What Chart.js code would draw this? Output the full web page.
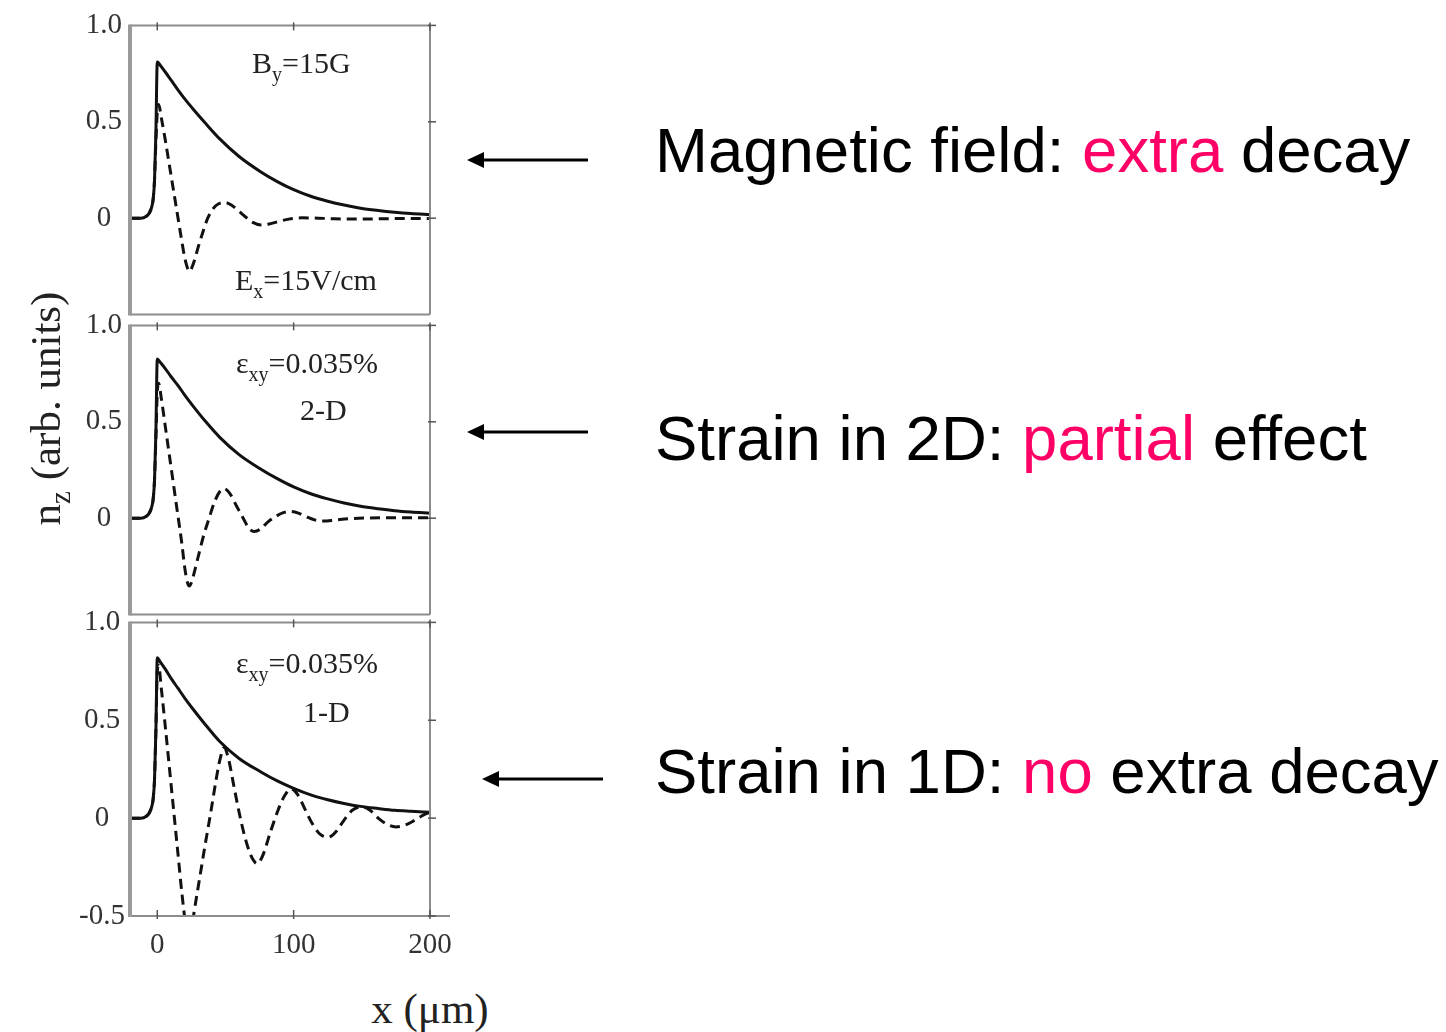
<!DOCTYPE html>
<html>
<head>
<meta charset="utf-8">
<script src="https://cdn.jsdelivr.net/npm/chart.js@4.4.0/dist/chart.umd.min.js"></script>
<style>
body { margin: 0; background: #fff; }
#page { position: relative; width: 1446px; height: 1032px; overflow: hidden; background: #fff; }
canvas.panel { position: absolute; left: 50px; }
.note { position: absolute; font-family: 'Liberation Serif', serif; font-size: 30px; line-height: 1; color: #222; white-space: nowrap; }
.note .s { font-size: 20px; position: relative; top: 8px; }
.say { position: absolute; left: 655px; font-family: 'Liberation Sans', Arial, sans-serif; font-size: 63.5px; line-height: 1; white-space: nowrap; color: #000; }
.hot { color: #ff0066; }
.axt { position: absolute; font-family: 'Liberation Serif', serif; font-size: 43px; line-height: 1; white-space: nowrap; color: #222; text-align: center; }
.axt .s { font-size: 29px; position: relative; top: 10px; }
svg { position: absolute; left: 0; top: 0; }
</style>
</head>
<body>
<div id="page">
  <canvas class="panel" id="p1" width="420" height="340" style="top:0px"></canvas>
  <canvas class="panel" id="p2" width="420" height="340" style="top:300px"></canvas>
  <canvas class="panel" id="p3" width="420" height="380" style="top:600px"></canvas>

  <div class="note" style="left:252px; top:48px">B<span class="s">y</span>=15G</div>
  <div class="note" style="left:235px; top:265px">E<span class="s">x</span>=15V/cm</div>
  <div class="note" style="left:236px; top:348px">ε<span class="s">xy</span>=0.035%</div>
  <div class="note" style="left:300px; top:395px">2-D</div>
  <div class="note" style="left:236px; top:648px">ε<span class="s">xy</span>=0.035%</div>
  <div class="note" style="left:303px; top:697px">1-D</div>

  <div class="axt" style="left:-115px; top:387px; width:320px; transform:rotate(-90deg)">n<span class="s">z</span> (arb. units)</div>
  <div class="axt" style="left:330px; top:987px; width:200px">x (μm)</div>

  <svg width="1446" height="1032">
    <g stroke="#000" stroke-width="3">
      <line x1="482" y1="160" x2="588" y2="160"/>
      <line x1="482" y1="432" x2="588" y2="432"/>
      <line x1="497" y1="779" x2="603" y2="779"/>
    </g>
    <g fill="#000">
      <polygon points="467,160 484,152 484,168"/>
      <polygon points="467,432 484,424 484,440"/>
      <polygon points="482,779 499,771 499,787"/>
    </g>
  </svg>

  <div class="say" style="top:119px">Magnetic field: <span class="hot">extra</span> decay</div>
  <div class="say" style="top:407px">Strain in 2D: <span class="hot">partial</span> effect</div>
  <div class="say" style="top:740px">Strain in 1D: <span class="hot">no</span> extra decay</div>
</div>

<script>
// tick values
const xTicks = [0, 100, 200]
const yTicksUpper = [0, 0.5, 1]
const yTicksLower = [-0.5, 0, 0.5, 1]

// solid curves share one x grid (x in um)
const solidX = [-20, -12, -8, -6, -4, -3, -2, -1, 0, 2, 6, 10, 15, 20, 27, 35, 46, 60, 76, 88, 100, 112, 125, 137, 149, 162, 174, 186, 200]
const solidB = [0, 0, 0.01, 0.025, 0.06, 0.1, 0.2, 0.45, 0.81, 0.795, 0.757, 0.717, 0.667, 0.62, 0.56, 0.495, 0.41, 0.32, 0.24, 0.19, 0.148, 0.115, 0.088, 0.068, 0.052, 0.04, 0.031, 0.024, 0.018]
const solid2D = [0, 0, 0.01, 0.025, 0.06, 0.1, 0.2, 0.45, 0.826, 0.81, 0.775, 0.735, 0.69, 0.64, 0.575, 0.505, 0.418, 0.33, 0.254, 0.205, 0.162, 0.128, 0.1, 0.079, 0.062, 0.049, 0.039, 0.032, 0.026]
const solid1D = [0, 0, 0.01, 0.025, 0.06, 0.1, 0.2, 0.45, 0.82, 0.8, 0.76, 0.715, 0.665, 0.615, 0.55, 0.48, 0.39, 0.305, 0.236, 0.19, 0.152, 0.12, 0.094, 0.075, 0.06, 0.049, 0.04, 0.035, 0.03]

// dashed curves
const dashXB = [-20, -12, -8, -6, -4, -3, -2, -1, 0, 1, 3, 6, 9, 12, 15, 18, 20, 22, 23.5, 25, 27, 30, 34, 37, 41, 45, 50, 55, 60, 65, 70, 76, 82, 90, 98, 106, 115, 130, 150, 175, 200]
const dashYB = [0, 0, 0.01, 0.025, 0.06, 0.1, 0.2, 0.4, 0.55, 0.59, 0.52, 0.4, 0.27, 0.14, 0.01, -0.12, -0.2, -0.255, -0.276, -0.262, -0.225, -0.15, -0.06, 0, 0.05, 0.075, 0.081, 0.065, 0.035, 0.005, -0.022, -0.035, -0.03, -0.015, -0.003, 0.002, 0.001, -0.003, -0.004, -0.002, -0.002]

const dashX2D = [-20, -12, -8, -6, -4, -3, -2, -1, 0, 1, 3, 6, 9, 12, 15, 18, 20, 22, 23.5, 25, 27, 30, 34, 38, 42, 46, 49, 53, 58, 63, 67, 71, 76, 81, 86, 92, 98, 104, 110, 116, 122, 130, 140, 155, 175, 200]
const dashY2D = [0, 0, 0.01, 0.025, 0.06, 0.1, 0.2, 0.42, 0.65, 0.7, 0.62, 0.47, 0.32, 0.17, 0.02, -0.13, -0.25, -0.33, -0.352, -0.335, -0.285, -0.2, -0.09, 0, 0.085, 0.14, 0.153, 0.13, 0.065, 0, -0.05, -0.069, -0.055, -0.02, 0.005, 0.028, 0.035, 0.025, 0.005, -0.01, -0.015, -0.01, -0.003, 0.001, 0.002, 0.002]

const dashX1D = [-20, -12, -8, -6, -4, -3, -2, -1, 0, 1, 3, 6, 9, 12, 15, 18, 21, 24, 27, 31, 35, 39, 43, 46, 49, 52, 56, 60, 64, 68, 71, 73, 75, 78, 83, 88, 93, 98, 103, 108, 113, 119, 122, 125, 128, 131, 137, 143, 150, 156, 162, 168, 175, 182, 189, 195, 200]
const dashY1D = [0, 0, 0.01, 0.025, 0.06, 0.1, 0.2, 0.45, 0.75, 0.78, 0.66, 0.46, 0.25, 0.04, -0.17, -0.38, -0.55, -0.62, -0.48, -0.31, -0.14, 0.02, 0.19, 0.3, 0.36, 0.31, 0.17, 0.03, -0.09, -0.18, -0.22, -0.232, -0.222, -0.18, -0.07, 0.03, 0.11, 0.15, 0.12, 0.05, -0.02, -0.08, -0.093, -0.098, -0.09, -0.07, -0.01, 0.04, 0.058, 0.04, 0, -0.03, -0.045, -0.035, -0.01, 0.015, 0.03]

Chart.defaults.font.family = "'Liberation Serif', serif"

const pts = (xs, ys) => xs.map((x, i) => ({ x: x, y: ys[i] }))

// frame + small tick marks like the original plot
const framePlugin = {
    id: 'frame',
    afterDraw(chart, args, opts) {
        const ctx = chart.ctx
        const a = chart.chartArea
        const sx = chart.scales.x
        const sy = chart.scales.y
        const line = (x1, y1, x2, y2) => { ctx.beginPath(); ctx.moveTo(x1, y1); ctx.lineTo(x2, y2); ctx.stroke() }
        ctx.save()
        ctx.strokeStyle = '#8c8c8c'
        ctx.lineWidth = 2
        line(a.left, a.top, a.right, a.top)
        line(a.right, a.top, a.right, a.bottom)
        line(a.left, a.bottom, opts.last ? a.right + 20 : a.right, a.bottom)
        ctx.strokeStyle = '#9a9a9a'
        ctx.lineWidth = 4
        line(a.left, a.top - 1, a.left, a.bottom + 1)
        ctx.strokeStyle = '#555'
        ctx.lineWidth = 1.5
        xTicks.forEach(v => {
            const px = sx.getPixelForValue(v)
            line(px, a.top - 3, px, a.top + 5)
            if (opts.last) line(px, a.bottom - 6, px, a.bottom + 3)
        })
        opts.yTicks.forEach(v => {
            const py = sy.getPixelForValue(v)
            line(a.right - 2, py, a.right + 6, py)
        })
        ctx.restore()
    }
}

const makePanel = (id, solidY, dashX, dashY, yTicks, padTop, padBottom, last) => {
    new Chart(document.getElementById(id), {
        type: 'line',
        data: {
            datasets: [{
                data: pts(solidX, solidY),
                borderColor: '#111',
                borderWidth: 3,
                pointRadius: 0,
                cubicInterpolationMode: 'monotone'
            }, {
                data: pts(dashX, dashY),
                borderColor: '#111',
                borderWidth: 3,
                borderDash: [10, 6],
                pointRadius: 0,
                cubicInterpolationMode: 'monotone'
            }]
        },
        options: {
            responsive: false,
            animation: false,
            layout: { padding: { left: 0, right: 40, top: padTop, bottom: padBottom } },
            plugins: {
                legend: { display: false },
                tooltip: { enabled: false },
                frame: { last: last, yTicks: yTicks }
            },
            scales: {
                x: {
                    type: 'linear',
                    min: -20,
                    max: 200,
                    display: last,
                    afterBuildTicks: s => { s.ticks = xTicks.map(v => ({ value: v })) },
                    afterFit: s => { s.height = last ? 60 : 0 },
                    grid: { display: false, drawTicks: false },
                    border: { display: false },
                    ticks: { font: { size: 29 }, color: '#333', padding: 12, maxRotation: 0, autoSkip: false }
                },
                y: {
                    min: -0.5,
                    max: 1,
                    afterBuildTicks: s => { s.ticks = yTicks.map(v => ({ value: v })) },
                    afterFit: s => { s.width = 80 },
                    grid: { display: false, drawTicks: false },
                    border: { display: false },
                    ticks: {
                        font: { size: 29 },
                        color: '#333',
                        padding: last ? 5 : 8,
                        crossAlign: 'center',
                        callback: v => v === 0 ? '0' : v.toFixed(1)
                    }
                }
            }
        },
        plugins: [framePlugin]
    })
}

makePanel('p1', solidB, dashXB, dashYB, yTicksUpper, 18, 23, false)
makePanel('p2', solid2D, dashX2D, dashY2D, yTicksUpper, 17, 24, false)
makePanel('p3', solid1D, dashX1D, dashY1D, yTicksLower, 17, 4, true)
</script>
</body>
</html>
